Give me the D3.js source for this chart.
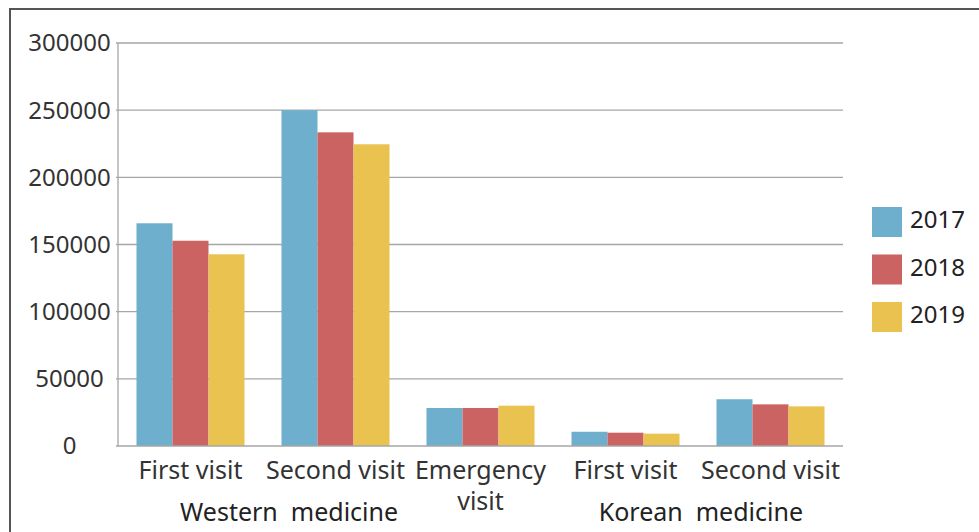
<!DOCTYPE html>
<html>
<head>
<meta charset="utf-8">
<script src="https://cdn.jsdelivr.net/npm/d3@7"></script>
<style>
  html, body { margin: 0; padding: 0; background: #fff; }
  svg { display: block; font-family: "Noto Sans", "DejaVu Sans", sans-serif; }
</style>
</head>
<body>
<svg id="chart" width="979" height="532"></svg>
<script>
// Visit counts by type and year
const categories = ["First visit", "Second visit", "Emergency\nvisit", "First visit", "Second visit"];
const years = ["2017", "2018", "2019"];
const values2017 = [165800, 250000, 28300, 10600, 34800];
const values2018 = [152800, 233500, 28300, 9900, 31000];
const values2019 = [142700, 224600, 30000, 9200, 29500];
const yTicks = [0, 50000, 100000, 150000, 200000, 250000, 300000];
const groups = [
  { label: "Western  medicine", from: 0, to: 1, shift: 0.18 },
  { label: "Korean  medicine", from: 3, to: 4, shift: 0.02 }
];
const colors = ["#6fafce", "#cc6363", "#eac250"];

const series = [values2017, values2018, values2019];
const svg = d3.select("#chart");

const margin = { left: 118, right: 136, top: 43, bottom: 86 };
const width = 979, height = 532;

const x = d3.scaleBand()
  .domain(d3.range(categories.length))
  .range([margin.left, width - margin.right])
  .paddingInner(0.255)
  .paddingOuter(0.1275);

const xSub = d3.scaleBand()
  .domain(years)
  .range([0, x.bandwidth()]);

const y = d3.scaleLinear()
  .domain([0, 300000])
  .range([height - margin.bottom, margin.top]);

// Outer frame
svg.append("rect")
  .attr("x", 10).attr("y", 9)
  .attr("width", 1000).attr("height", 600)
  .attr("fill", "none")
  .attr("stroke", "#555")
  .attr("stroke-width", 2);

// Horizontal grid lines
svg.append("g")
  .selectAll("line")
  .data(yTicks.filter(d => d > 0))
  .join("line")
  .attr("x1", margin.left - 2)
  .attr("x2", width - margin.right)
  .attr("y1", d => y(d))
  .attr("y2", d => y(d))
  .attr("stroke", "#a6a6a6")
  .attr("stroke-width", 1.3);

// Y axis tick labels (centred in the left margin)
svg.append("g")
  .selectAll("text")
  .data(yTicks)
  .join("text")
  .attr("x", 69.5)
  .attr("y", d => y(d))
  .attr("dy", "0.35em")
  .attr("text-anchor", "middle")
  .attr("font-size", 24)
  .attr("fill", "#333")
  .text(d => d);

// Bars
const barGroups = svg.append("g")
  .selectAll("g")
  .data(categories.map((c, i) => i))
  .join("g")
  .attr("transform", i => `translate(${x(i)},0)`);

barGroups.selectAll("rect")
  .data(i => years.map((yr, k) => ({ yr, k, v: series[k][i] })))
  .join("rect")
  .attr("x", d => xSub(d.yr))
  .attr("width", xSub.bandwidth())
  .attr("y", d => y(d.v))
  .attr("height", d => y(0) - y(d.v))
  .attr("fill", d => colors[d.k]);

// Axis lines
svg.append("line")
  .attr("x1", margin.left).attr("x2", margin.left)
  .attr("y1", y(300000)).attr("y2", y(0))
  .attr("stroke", "#a6a6a6").attr("stroke-width", 1.3);
svg.append("line")
  .attr("x1", margin.left - 2).attr("x2", width - margin.right)
  .attr("y1", y(0)).attr("y2", y(0))
  .attr("stroke", "#a6a6a6").attr("stroke-width", 1.3);

// Category labels (one text per line)
const catLines = categories.flatMap((c, i) =>
  c.split("\n").map((t, j) => ({ t, j, i })));
svg.append("g")
  .selectAll("text")
  .data(catLines)
  .join("text")
  .attr("x", d => x(d.i) + x.bandwidth() / 2)
  .attr("y", d => y(0) + 24 + d.j * 31)
  .attr("dy", "0.35em")
  .attr("text-anchor", "middle")
  .attr("font-size", 25)
  .attr("fill", "#333")
  .text(d => d.t);

// Group labels beneath categories
svg.append("g")
  .selectAll("text")
  .data(groups)
  .join("text")
  .attr("x", g => (x(g.from) + x(g.to) + x.bandwidth()) / 2 + g.shift * x.step())
  .attr("y", y(0) + 66)
  .attr("dy", "0.35em")
  .attr("text-anchor", "middle")
  .attr("font-size", 25)
  .attr("fill", "#222")
  .attr("xml:space", "preserve")
  .style("white-space", "pre")
  .text(g => g.label);

// Legend
const legend = svg.append("g")
  .selectAll("g")
  .data(years)
  .join("g")
  .attr("transform", (d, k) => `translate(872,${207 + k * 47.5})`);
legend.append("rect")
  .attr("width", 30).attr("height", 30)
  .attr("fill", (d, k) => colors[k]);
legend.append("text")
  .attr("x", 38).attr("y", 13)
  .attr("dy", "0.35em")
  .attr("font-size", 24)
  .attr("fill", "#222")
  .text(d => d);
</script>
</body>
</html>
